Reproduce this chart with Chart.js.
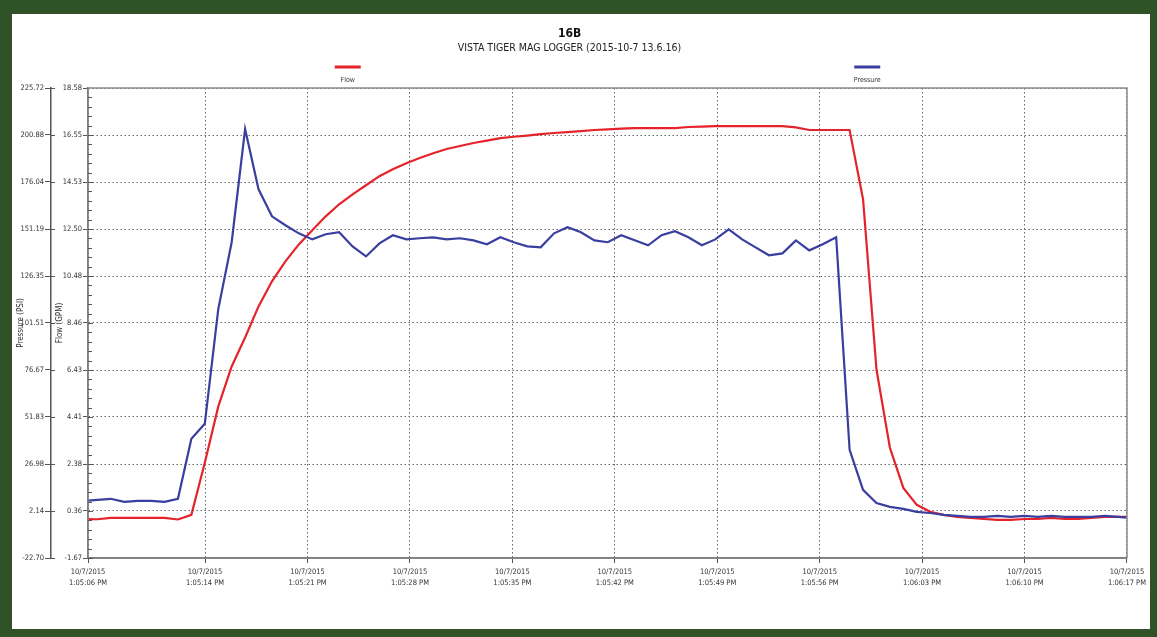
<!DOCTYPE html>
<html>
<head>
<meta charset="utf-8">
<script src="https://cdn.jsdelivr.net/npm/chart.js@4.4.1/dist/chart.umd.min.js"></script>
<style>
  html, body { margin: 0; padding: 0; }
  body { width: 1157px; height: 637px; background: #2f5226; position: relative; overflow: hidden; }
  #frame { position: absolute; left: 12px; top: 14px; width: 1138px; height: 615px; background: #fff; }
</style>
</head>
<body>
<div id="frame"><canvas id="myChart" width="1138" height="615"></canvas></div>
<script>
// logger samples (seconds after 1:05:06 PM)
const SAMPLE_START = -0.28;
const SAMPLE_STEP = 0.918;

// Flow (GPM)
const FLOW = [0.01, 0.00, 0.06, 0.06, 0.06, 0.06, 0.06, -0.01, 0.19, 2.43,
  4.85, 6.58, 7.83, 9.17, 10.25, 11.11, 11.84, 12.45, 13.05, 13.57,
  14.00, 14.39, 14.78, 15.08, 15.34, 15.56, 15.77, 15.95, 16.08, 16.21,
  16.31, 16.42, 16.48, 16.53, 16.59, 16.64, 16.68, 16.72, 16.77, 16.80,
  16.83, 16.85, 16.85, 16.85, 16.85, 16.90, 16.92, 16.94, 16.94, 16.94,
  16.94, 16.94, 16.94, 16.88, 16.77, 16.77, 16.77, 16.77, 13.79, 6.45,
  3.08, 1.35, 0.62, 0.32, 0.19, 0.10, 0.06, 0.01, -0.03, -0.03,
  0.01, 0.01, 0.06, 0.01, 0.01, 0.06, 0.10, 0.10, 0.10];

// Pressure (PSI)
const PRESSURE = [7.5, 8.0, 8.6, 7.0, 7.5, 7.5, 7.0, 8.6, 40.3, 48.3,
  108.7, 144.2, 204.0, 172.2, 157.9, 153.2, 148.9, 145.7, 148.4, 149.5,
  142.0, 136.7, 143.6, 147.9, 145.7, 146.3, 146.8, 145.7, 146.3, 145.2,
  143.1, 146.8, 144.2, 142.0, 141.5, 148.9, 152.1, 149.5, 145.2, 144.2,
  147.9, 145.2, 142.6, 147.9, 150.0, 146.8, 142.6, 145.7, 151.0, 145.7,
  141.5, 137.3, 138.3, 145.2, 139.9, 143.1, 146.8, 34.5, 13.3, 6.4,
  4.3, 3.3, 1.7, 1.1, 0.1, -0.4, -1.0, -1.0, -0.4, -1.0,
  -0.4, -1.0, -0.4, -1.0, -1.0, -1.0, -0.4, -1.0, -1.5];

const PRESSURE_TICKS = ['-22.70', '2.14', '26.98', '51.83', '76.67', '101.51', '126.35', '151.19', '176.04', '200.88', '225.72'];
const FLOW_TICKS = ['-1.67', '0.36', '2.38', '4.41', '6.43', '8.46', '10.48', '12.50', '14.53', '16.55', '18.58'];
const TIME_TICKS = [0, 8, 15, 22, 29, 36, 43, 50, 57, 64, 71];
const TIME_LABELS = ['1:05:06 PM', '1:05:14 PM', '1:05:21 PM', '1:05:28 PM', '1:05:35 PM', '1:05:42 PM',
  '1:05:49 PM', '1:05:56 PM', '1:06:03 PM', '1:06:10 PM', '1:06:17 PM'];
const DATE_LABEL = '10/7/2015';

const LEGEND_POS = [0.25, 0.75];

function toPoints(arr) {
  return arr.map((v, i) => ({ x: SAMPLE_START + SAMPLE_STEP * i, y: v }));
}

Chart.defaults.font.family = "'Liberation Sans Narrow', 'DejaVu Sans Condensed', 'Liberation Sans', sans-serif";
Chart.defaults.color = '#333';

// box round the plot + small ticks on the inside of the flow axis
const plotFrame = {
  id: 'plotFrame',
  afterDatasetsDraw(chart) {
    const ctx = chart.ctx;
    const a = chart.chartArea;
    ctx.save();
    ctx.strokeStyle = '#8a8a8a';
    ctx.lineWidth = 1.5;
    ctx.strokeRect(a.left, a.top, a.right - a.left, a.bottom - a.top);

    ctx.strokeStyle = '#555';
    ctx.lineWidth = 1;
    const fy = chart.scales.flow;
    const lo = parseFloat(FLOW_TICKS[0]);
    const step = (parseFloat(FLOW_TICKS[FLOW_TICKS.length - 1]) - lo) / (FLOW_TICKS.length - 1);
    ctx.beginPath();
    for (let i = 0; i < FLOW_TICKS.length - 1; i++) {
      for (let k = 0; k <= 4; k++) {
        const y = Math.round(fy.getPixelForValue(lo + (i + k / 5) * step)) + 0.5;
        ctx.moveTo(a.left, y);
        ctx.lineTo(a.left + (k === 0 ? 5 : 4), y);
      }
    }
    const py = chart.scales.pressure;
    PRESSURE_TICKS.forEach(t => {
      const y = Math.round(py.getPixelForValue(parseFloat(t))) + 0.5;
      ctx.moveTo(py.right, y);
      ctx.lineTo(py.right + 4, y);
    });
    ctx.stroke();
    ctx.restore();
  }
};

// legend items sit over the quarter points of the plot
const topLegend = {
  id: 'topLegend',
  afterDraw(chart) {
    const ctx = chart.ctx;
    const a = chart.chartArea;
    ctx.save();
    chart.data.datasets.forEach((ds, i) => {
      const cx = a.left + (a.right - a.left) * LEGEND_POS[i];
      ctx.strokeStyle = ds.borderColor;
      ctx.lineWidth = 3;
      ctx.beginPath();
      ctx.moveTo(cx - 13, a.top - 21);
      ctx.lineTo(cx + 13, a.top - 21);
      ctx.stroke();
      ctx.fillStyle = '#333';
      ctx.font = "7px 'Liberation Sans Narrow', 'DejaVu Sans Condensed', sans-serif";
      ctx.textAlign = 'center';
      ctx.textBaseline = 'middle';
      ctx.fillText(ds.label, cx, a.top - 8);
    });
    ctx.restore();
  }
};

const ctx = document.getElementById('myChart').getContext('2d');
const myChart = new Chart(ctx, {
  type: 'line',
  data: {
    datasets: [{
      label: 'Flow',
      data: toPoints(FLOW),
      yAxisID: 'flow',
      borderColor: '#e5232b',
      borderWidth: 2.2,
      pointRadius: 0,
      tension: 0,
      order: 1
    }, {
      label: 'Pressure',
      data: toPoints(PRESSURE),
      yAxisID: 'pressure',
      borderColor: '#3a3e9f',
      borderWidth: 2.2,
      pointRadius: 0,
      tension: 0,
      order: 0
    }]
  },
  options: {
    responsive: false,
    animation: false,
    devicePixelRatio: 1,
    layout: { padding: { top: 0, right: 23, bottom: 26, left: 0 } },
    plugins: {
      legend: { display: false },
      tooltip: { enabled: false },
      title: {
        display: true,
        text: '16B',
        color: '#111',
        font: { size: 12, weight: 'bold' },
        padding: { top: 13, bottom: 1 }
      },
      subtitle: {
        display: true,
        text: 'VISTA TIGER MAG LOGGER (2015-10-7 13.6.16)',
        color: '#222',
        font: { size: 10.5 },
        padding: { top: 0, bottom: 33 }
      }
    },
    scales: {
      x: {
        type: 'linear',
        min: 0,
        max: 71,
        afterBuildTicks: s => { s.ticks = TIME_TICKS.map(v => ({ value: v })); },
        afterFit: s => { s.height = 45; },
        ticks: {
          autoSkip: false,
          maxRotation: 0,
          padding: 4,
          font: { size: 7.5, lineHeight: 1.4 },
          callback: (v, i) => [DATE_LABEL, TIME_LABELS[i]]
        },
        grid: { color: '#666', tickLength: 5, tickColor: '#555' },
        border: { display: true, color: '#555', width: 1.5, dash: [1.5, 2.5] }
      },
      flow: {
        type: 'linear',
        position: 'left',
        weight: 0,
        min: parseFloat(FLOW_TICKS[0]),
        max: parseFloat(FLOW_TICKS[FLOW_TICKS.length - 1]),
        afterBuildTicks: s => { s.ticks = FLOW_TICKS.map(v => ({ value: parseFloat(v) })); },
        afterFit: s => { s.width = 37; },
        ticks: { padding: 1, font: { size: 7.5 }, callback: (v, i) => FLOW_TICKS[i] },
        title: { display: true, text: 'Flow (GPM)', font: { size: 8 }, padding: { top: 4, bottom: 0 } },
        grid: { color: '#666', tickLength: 5, tickColor: '#555' },
        border: { display: true, color: '#555', width: 1.5, dash: [1.5, 2.5] }
      },
      pressure: {
        type: 'linear',
        position: 'left',
        weight: 1,
        min: parseFloat(PRESSURE_TICKS[0]),
        max: parseFloat(PRESSURE_TICKS[PRESSURE_TICKS.length - 1]),
        afterBuildTicks: s => { s.ticks = PRESSURE_TICKS.map(v => ({ value: parseFloat(v) })); },
        afterFit: s => { s.width = 39; },
        ticks: { padding: 1, font: { size: 7.5 }, callback: (v, i) => PRESSURE_TICKS[i] },
        title: { display: true, text: 'Pressure (PSI)', font: { size: 8 }, padding: { top: 4, bottom: 0 } },
        grid: { drawOnChartArea: false, tickLength: 6, tickColor: '#555' },
        border: { display: true, color: '#555', width: 1.5 }
      }
    }
  },
  plugins: [plotFrame, topLegend]
});
</script>
</body>
</html>
